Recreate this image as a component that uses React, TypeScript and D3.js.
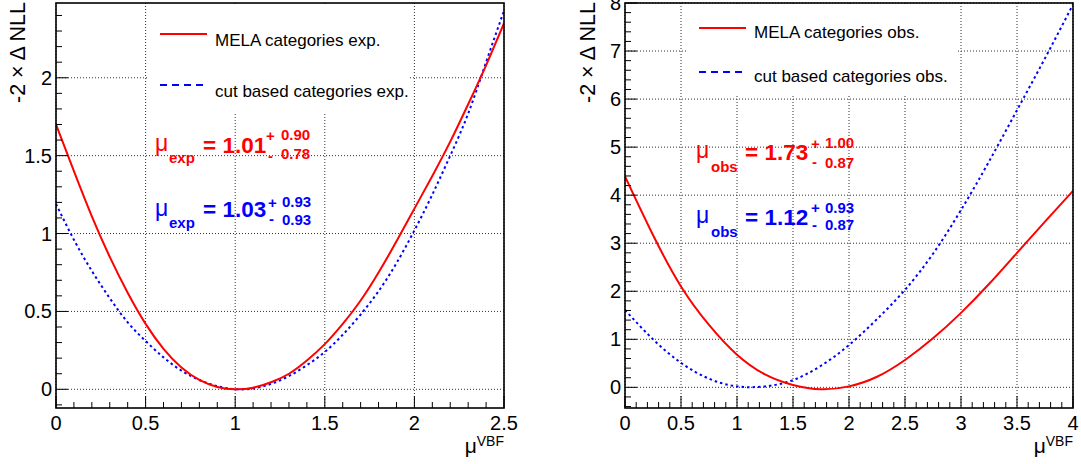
import React from 'react';
import * as d3 from 'd3';

// ---------- data ----------
const leftMu = [0, 0.1, 0.2, 0.3, 0.4, 0.5, 0.6, 0.7, 0.8, 0.9, 1.0, 1.1, 1.2, 1.3, 1.4, 1.5, 1.6, 1.7, 1.8, 1.9, 2.0, 2.1, 2.2, 2.3, 2.4, 2.5];
const leftMelaExp = [1.70, 1.40, 1.11, 0.85, 0.62, 0.42, 0.26, 0.14, 0.06, 0.015, 0.0, 0.01, 0.045, 0.10, 0.185, 0.29, 0.42, 0.57, 0.75, 0.95, 1.16, 1.37, 1.59, 1.83, 2.08, 2.35];
const leftCutExp = [1.19, 0.96, 0.76, 0.585, 0.43, 0.31, 0.205, 0.12, 0.06, 0.02, 0.001, 0.005, 0.035, 0.085, 0.155, 0.24, 0.35, 0.48, 0.63, 0.81, 1.02, 1.25, 1.50, 1.77, 2.10, 2.43];

const rightMu = [0, 0.25, 0.5, 0.75, 1.0, 1.25, 1.5, 1.75, 2.0, 2.25, 2.5, 2.75, 3.0, 3.25, 3.5, 3.75, 4.0];
const rightMelaObs = [4.39, 3.17, 2.10, 1.30, 0.68, 0.27, 0.05, -0.04, 0.02, 0.22, 0.57, 1.02, 1.55, 2.15, 2.80, 3.45, 4.09];
const rightCutObs = [1.61, 1.00, 0.51, 0.18, 0.02, 0.02, 0.15, 0.45, 0.88, 1.42, 2.03, 2.78, 3.69, 4.70, 5.77, 6.85, 7.97];

const leftXTicks = [0, 0.5, 1, 1.5, 2, 2.5];
const leftYTicks = [0, 0.5, 1, 1.5, 2];
const rightXTicks = [0, 0.5, 1, 1.5, 2, 2.5, 3, 3.5, 4];
const rightYTicks = [0, 1, 2, 3, 4, 5, 6, 7, 8];

const leftLegend = ['MELA categories exp.', 'cut based categories exp.'];
const rightLegend = ['MELA categories obs.', 'cut based categories obs.'];

const leftFits = [
  { sub: 'exp', val: '1.01', up: '0.90', down: '0.78' },
  { sub: 'exp', val: '1.03', up: '0.93', down: '0.93' },
];
const rightFits = [
  { sub: 'obs', val: '1.73', up: '1.00', down: '0.87' },
  { sub: 'obs', val: '1.12', up: '0.93', down: '0.87' },
];

const yTitle = '-2 \u00d7 \u0394 NLL';

// ---------- layout ----------
const FONT = "'Liberation Sans', Arial, Helvetica, sans-serif";
const RED = '#ff0000';
const BLUE = '#0000ff';

type FitPos = { mx: number; my: number; sx: number; sy: number; vx: number; vy: number; px: number; py: number; ux: number; uy: number; nx: number; ny: number; dx: number; dy: number };

type PanelCfg = {
  id: string;
  left: number; right: number; top: number; bottom: number;
  xDomain: [number, number]; yDomain: [number, number];
  xTicks: number[]; yTicks: number[];
  xMinorStep: number; yMinorStep: number;
  mu: number[]; mela: number[]; cut: number[];
  legend: string[];
  legendBox: { x: number; w: number; h: number };
  legendLineX: number; legendTextX: number;
  legendY: number[]; legendTextY: number[];
  titleX: number;
  fits: { sub: string; val: string; up: string; down: string }[];
  fitPos: FitPos[];
};

const panels: PanelCfg[] = [
  {
    id: 'L', left: 56, right: 504, top: 3, bottom: 408,
    xDomain: [0, 2.5], yDomain: [-0.12, 2.48],
    xTicks: leftXTicks, yTicks: leftYTicks, xMinorStep: 0.1, yMinorStep: 0.1,
    mu: leftMu, mela: leftMelaExp, cut: leftCutExp,
    legend: leftLegend,
    legendBox: { x: 148, w: 262, h: 110 },
    legendLineX: 160, legendTextX: 215,
    legendY: [34, 85], legendTextY: [46, 97],
    titleX: 25,
    fits: leftFits,
    fitPos: [
      { mx: 155, my: 151, sx: 169, sy: 163, vx: 203, vy: 153, px: 266, py: 141, ux: 281, uy: 140, nx: 268, ny: 161, dx: 281, dy: 159 },
      { mx: 155, my: 216, sx: 169, sy: 228, vx: 203, vy: 217, px: 268, py: 208, ux: 282, uy: 207, nx: 269, ny: 224, dx: 282, dy: 225 },
    ],
  },
  {
    id: 'R', left: 625, right: 1073, top: 3, bottom: 408,
    xDomain: [0, 4], yDomain: [-0.43, 8.0],
    xTicks: rightXTicks, yTicks: rightYTicks, xMinorStep: 0.1, yMinorStep: 0.2,
    mu: rightMu, mela: rightMelaObs, cut: rightCutObs,
    legend: rightLegend,
    legendBox: { x: 686, w: 271, h: 92 },
    legendLineX: 699, legendTextX: 754,
    legendY: [28, 72], legendTextY: [38, 82],
    titleX: 595,
    fits: rightFits,
    fitPos: [
      { mx: 696, my: 158, sx: 711, sy: 172, vx: 745, vy: 160, px: 811, py: 149, ux: 825, uy: 148, nx: 812, ny: 167, dx: 825, dy: 168 },
      { mx: 696, my: 223, sx: 711, sy: 237, vx: 745, vy: 225, px: 811, py: 213, ux: 825, uy: 213, nx: 812, ny: 230, dx: 825, dy: 230 },
    ],
  },
];

function minorTicks(domain: [number, number], step: number): number[] {
  const out: number[] = [];
  const start = Math.ceil(domain[0] / step - 1e-9);
  const end = Math.floor(domain[1] / step + 1e-9);
  for (let i = start; i <= end; i++) out.push(+(i * step).toFixed(6));
  return out;
}

function fmt(v: number): string {
  return String(+v.toFixed(2));
}

function Panel({ p }: { p: PanelCfg }) {
  const x = d3.scaleLinear().domain(p.xDomain).range([p.left, p.right]);
  const y = d3.scaleLinear().domain(p.yDomain).range([p.bottom, p.top]);
  const line = d3
    .line<[number, number]>()
    .x((d) => x(d[0]))
    .y((d) => y(d[1]))
    .curve(d3.curveNatural);
  const melaPts = p.mu.map((m, i) => [m, p.mela[i]] as [number, number]);
  const cutPts = p.mu.map((m, i) => [m, p.cut[i]] as [number, number]);
  const xMinor = minorTicks(p.xDomain, p.xMinorStep);
  const yMinor = minorTicks(p.yDomain, p.yMinorStep);
  const isMajor = (v: number, arr: number[]) => arr.some((a) => Math.abs(a - v) < 1e-6);
  const colors = [RED, BLUE];

  return (
    <g>
      <defs>
        <clipPath id={`clip${p.id}`}>
          <rect x={p.left} y={p.top} width={p.right - p.left} height={p.bottom - p.top} />
        </clipPath>
      </defs>
      {/* grid */}
      <g stroke="#000" strokeWidth={1} strokeDasharray="1 2" opacity={0.8}>
        {p.xTicks.map((t) => (
          <line key={`gx${t}`} x1={x(t)} x2={x(t)} y1={p.top} y2={p.bottom} />
        ))}
        {p.yTicks.map((t) => (
          <line key={`gy${t}`} x1={p.left} x2={p.right} y1={y(t)} y2={y(t)} />
        ))}
      </g>
      {/* legend box (white, covers grid) */}
      <rect x={p.legendBox.x} y={p.top + 1} width={p.legendBox.w} height={p.legendBox.h} fill="#fff" />
      {/* curves */}
      <g clipPath={`url(#clip${p.id})`} fill="none">
        <path d={line(cutPts) || ''} stroke={BLUE} strokeWidth={2} strokeDasharray="2.5 3" />
        <path d={line(melaPts) || ''} stroke={RED} strokeWidth={2} />
      </g>
      {/* ticks */}
      <g stroke="#000" strokeWidth={1}>
        {xMinor.map((t) => (
          <line key={`tx${t}`} x1={x(t)} x2={x(t)} y1={p.bottom} y2={p.bottom - (isMajor(t, p.xTicks) ? 12 : 6)} />
        ))}
        {yMinor.map((t) => (
          <line key={`ty${t}`} x1={p.left} x2={p.left + (isMajor(t, p.yTicks) ? 12 : 6)} y1={y(t)} y2={y(t)} />
        ))}
      </g>
      {/* frame */}
      <rect x={p.left} y={p.top} width={p.right - p.left} height={p.bottom - p.top} fill="none" stroke="#000" strokeWidth={1.6} />
      {/* tick labels */}
      <g fontFamily={FONT} fontSize={20} fill="#000">
        {p.xTicks.map((t) => (
          <text key={`lx${t}`} x={x(t)} y={430} textAnchor="middle">{fmt(t)}</text>
        ))}
        {p.yTicks.map((t) => (
          <text key={`ly${t}`} x={p.left - 4} y={y(t) + 7} textAnchor="end">{fmt(t)}</text>
        ))}
      </g>
      {/* axis titles */}
      <text transform={`translate(${p.titleX},2) rotate(-90)`} textAnchor="end" fontFamily={FONT} fontSize={21.5} fill="#000">
        {yTitle}
      </text>
      <text x={p.right} y={446} textAnchor="end" fontFamily={FONT} fill="#000">
        <tspan fontSize={21} dy={7}>{'\u03bc'}</tspan>
        <tspan fontSize={14} dy={-7}>VBF</tspan>
      </text>
      {/* legend */}
      {p.legend.map((label, i) => (
        <g key={`leg${i}`}>
          <line
            x1={p.legendLineX}
            x2={p.legendLineX + 47}
            y1={p.legendY[i]}
            y2={p.legendY[i]}
            stroke={colors[i]}
            strokeWidth={2}
            strokeDasharray={i === 1 ? '7 5' : undefined}
          />
          <text x={p.legendTextX} y={p.legendTextY[i]} fontFamily={FONT} fontSize={17} fill="#000">{label}</text>
        </g>
      ))}
      {/* fit results */}
      {p.fits.map((f, i) => {
        const q = p.fitPos[i];
        const c = colors[i];
        return (
          <g key={`fit${i}`} fontFamily={FONT} fill={c}>
            <text x={q.mx} y={q.my} fontSize={23}>{'\u03bc'}</text>
            <text x={q.sx} y={q.sy} fontSize={15} fontWeight="bold">{f.sub}</text>
            <text x={q.vx} y={q.vy} fontSize={22.5} fontWeight="bold">{`= ${f.val}`}</text>
            <text x={q.px} y={q.py} fontSize={15} fontWeight="bold">+</text>
            <text x={q.ux} y={q.uy} fontSize={15} fontWeight="bold">{f.up}</text>
            <text x={q.nx} y={q.ny} fontSize={15} fontWeight="bold">-</text>
            <text x={q.dx} y={q.dy} fontSize={15} fontWeight="bold">{f.down}</text>
          </g>
        );
      })}
    </g>
  );
}

export default function App() {
  return (
    <svg
      width={1081}
      height={464}
      style={{ position: 'absolute', left: 0, top: 0, background: '#fff' }}
    >
      <rect x={0} y={0} width={1081} height={464} fill="#fff" />
      {panels.map((p) => (
        <Panel key={p.id} p={p} />
      ))}
    </svg>
  );
}
